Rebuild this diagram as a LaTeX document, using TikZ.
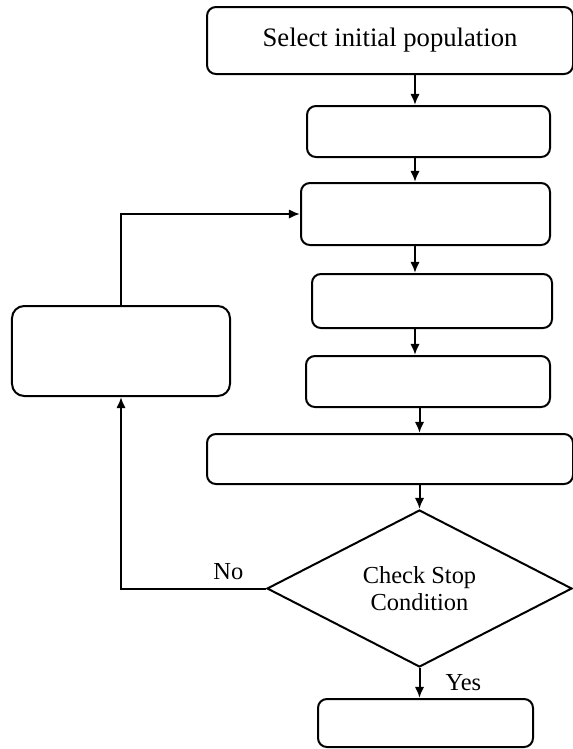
\documentclass[tikz,border=0pt]{standalone}
\usepackage{fontspec}
\setmainfont{Liberation Serif}
\usepackage{tikz}
\usetikzlibrary{shapes.geometric}
\usetikzlibrary{arrows.meta,calc}

\begin{document}
\begin{tikzpicture} [
       x=0.45pt, y=-0.45pt,
       stage/.style={rectangle, draw, line width=0.9pt, rounded corners=4pt, inner sep=0pt,
               font=\fontsize{12}{14}\selectfont},
       test/.style={diamond, draw, line width=0.9pt, inner sep=0pt, aspect=2, align=center,
               font=\fontsize{11}{12.2}\selectfont},
       texte/.style={font=\fontsize{11}{12.2}\selectfont},
        line/.style     = { draw, line width=0.9pt, -{Latex[length=5pt,width=4.2pt]} },
       ]
       \useasboundingbox (0,0) rectangle (573,749);
       \coordinate (axis) at (415,0);
       \node (init) [stage, minimum width=164.7pt, minimum height=30.15pt] at (390,40.5) {Select initial population};
       \node (b2) [stage, minimum width=109.35pt, minimum height=22.95pt] at (428.5,131.5) {};
       \node (b3) [stage, minimum width=112.05pt, minimum height=27.9pt] at (425.5,214) {};
       \node (b4) [stage, minimum width=108pt, minimum height=24.3pt] at (432,301) {};
       \node (b5) [stage, minimum width=109.8pt, minimum height=22.95pt] at (428,381.5) {};
       \node (b6) [stage, minimum width=164.7pt, minimum height=22.5pt] at (390,459) {};
       \node (back) [stage, rounded corners=5.5pt, minimum width=98.1pt, minimum height=40.5pt] at (121,351) {};
       \node (stop) [test, minimum width=137.25pt, minimum height=70.65pt] at (419.5,588.5) {Check Stop\\Condition};
       \node (last) [stage, minimum width=96.75pt, minimum height=21.6pt] at (425.5,723) {};
        \begin{scope}[every path/.style=line]
        \path (init.south -| axis) -- (b2.north -| axis);
        \path (b2.south -| axis) -- (b3.north -| axis);
        \path (b3.south -| axis) -- (b4.north -| axis);
        \path (b4.south -| axis) -- (b5.north -| axis);
        \path (b5.south -| stop.north) -- (b6.north -| stop.north);
        \path (b6.south -| stop.north) -- (stop.north);
        \path (stop.south) -- node[texte, right, xshift=8pt] {Yes} (stop.south |- last.north);
        \path (stop.west) -| node[texte, pos=0.13, above] {No} (back.south);
        \path (back.north) |- (b3.west);
\end{scope}
\end{tikzpicture}
\end{document}
